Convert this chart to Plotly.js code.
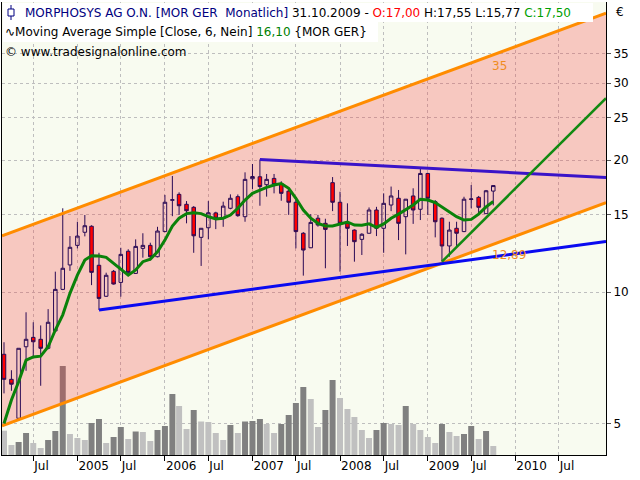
<!DOCTYPE html>
<html><head><meta charset="utf-8">
<script src="https://cdn.plot.ly/plotly-3.0.1.min.js"></script>
<style>html,body{margin:0;padding:0;background:#fff}</style>
</head><body><div id="chart" style="width:640px;height:480px"></div>
<script>
// ---- data ----
const months = ['2004-03-01','2004-04-01','2004-05-01','2004-06-01','2004-07-01','2004-08-01','2004-09-01','2004-10-01','2004-11-01','2004-12-01',
'2005-01-01','2005-02-01','2005-03-01','2005-04-01','2005-05-01','2005-06-01','2005-07-01','2005-08-01','2005-09-01','2005-10-01','2005-11-01','2005-12-01',
'2006-01-01','2006-02-01','2006-03-01','2006-04-01','2006-05-01','2006-06-01','2006-07-01','2006-08-01','2006-09-01','2006-10-01','2006-11-01','2006-12-01',
'2007-01-01','2007-02-01','2007-03-01','2007-04-01','2007-05-01','2007-06-01','2007-07-01','2007-08-01','2007-09-01','2007-10-01','2007-11-01','2007-12-01',
'2008-01-01','2008-02-01','2008-03-01','2008-04-01','2008-05-01','2008-06-01','2008-07-01','2008-08-01','2008-09-01','2008-10-01','2008-11-01','2008-12-01',
'2009-01-01','2009-02-01','2009-03-01','2009-04-01','2009-05-01','2009-06-01','2009-07-01','2009-08-01','2009-09-01','2009-10-01'];
const openP  = [7.21,6.32,5.15,7.50,7.88,7.80,7.44,8.15,10.14,11.53, 12.78,13.69,14.13,11.51,9.78,11.15,10.52,12.39,11.03,12.58,12.78,12.04,
 13.74,16.20,16.71,15.86,15.61,13.33,14.02,15.16,14.74,15.53,16.51,14.86, 18.14,18.33,17.58,18.17,17.69,17.00,16.03,13.62,12.62,14.74,14.35,17.77,
 16.03,14.35,13.85,13.19,13.62,15.39,13.98,15.80,16.37,14.86,16.57,15.45, 18.65,16.08,14.74,12.74,13.98,13.74,16.27,16.45,15.10,17.00];
const highP  = [7.68,6.63,7.44,8.99,8.53,8.39,9.14,11.13,15.53,13.42, 14.47,14.99,14.20,12.29,11.07,11.23,12.62,12.52,13.19,13.62,12.96,14.09,
 16.66,18.40,16.89,16.13,15.71,14.00,16.13,15.25,16.08,16.71,16.70,18.76, 19.60,20.07,18.60,18.60,17.90,17.20,16.22,13.70,15.06,15.00,14.70,18.30,
 16.94,15.94,13.90,13.62,15.60,15.65,16.80,17.41,17.10,16.30,17.25,19.10, 18.70,16.22,14.80,14.47,14.47,16.50,17.55,16.57,17.10,17.55];
const lowP   = [5.87,5.95,5.10,6.61,7.11,6.11,7.40,8.10,10.10,11.18, 12.58,13.40,10.37,9.10,9.75,10.40,9.76,10.88,11.00,11.98,11.80,12.00,
 13.70,14.90,15.00,14.35,12.29,11.47,13.19,13.92,14.09,15.45,14.85,14.47, 17.19,15.74,16.51,16.80,16.16,15.00,12.58,10.90,12.60,14.10,11.33,15.30,
 11.13,12.74,11.73,12.15,13.60,13.42,12.29,15.30,13.14,12.19,14.31,14.60, 15.00,13.33,11.73,12.04,12.69,13.70,15.53,15.10,15.10,15.77];
const closeP = [6.32,6.16,7.44,7.80,7.70,7.44,8.53,10.14,11.33,12.65, 13.42,14.17,11.09,9.67,10.92,10.43,12.19,11.09,12.71,12.78,12.04,13.78,
 16.03,16.24,15.74,15.33,13.44,13.98,15.17,14.74,15.71,16.37,14.94,18.08, 18.35,17.41,18.08,17.60,16.80,16.03,13.74,12.47,14.42,14.22,13.90,16.03,
 14.35,13.98,13.03,13.55,15.39,13.98,15.94,16.57,14.35,16.29,15.39,18.65, 16.37,14.47,12.74,13.85,13.62,16.29,16.31,15.61,17.03,17.50];
const ma6 = [5.01,5.67,6.24,6.99,7.11,7.14,7.50,8.19,8.87,9.93, 10.93,11.83,12.10,12.08,12.00,11.63,11.33,10.93,11.23,11.73,11.88,12.36,
 13.14,14.15,14.74,15.10,15.17,15.10,14.86,14.68,14.74,14.99,15.53,16.22, 16.80,17.10,17.34,17.55,17.69,17.25,16.37,15.39,14.74,14.35,14.15,14.15,
 14.31,14.45,14.22,14.20,14.31,14.05,14.31,14.74,15.06,15.45,15.80,16.29, 16.22,16.00,15.61,15.25,14.86,14.60,14.65,15.06,15.65,16.10];
const volume = [243,100,130,220,120,70,150,240,890,210, 170,150,320,360,120,180,280,160,235,230,140,250,
 290,610,490,260,450,335,330,220,150,300,220,335, 340,360,310,220,310,400,520,680,560,280,450,750,
 570,460,380,250,170,250,320,310,300,490,310,250, 180,120,310,230,190,210,290,160,240,90];
const maLabel = '16,10';
const xTickVals = ['2004-07-01','2005-01-01','2005-07-01','2006-01-01','2006-07-01','2007-01-01','2007-07-01','2008-01-01','2008-07-01','2009-01-01','2009-07-01','2010-01-01','2010-07-01'];
const xTickText = ['Jul','2005','Jul','2006','Jul','2007','Jul','2008','Jul','2009','Jul','2010','Jul'];
const yTickVals = [5,10,15,20,25,30,35];
const xRange = ['2004-02-21 16:00','2011-01-14'];
const yRange = [4.246, 45.93];
const channelX = ['2004-02-21 16:00','2011-01-14'];
const channelUpper = [13.44, 43.3];
const channelLower = [4.95, 16.0];
const supportX = ['2005-04-01','2011-01-14'];
const supportY = [9.10, 13.04];
const resistX = ['2007-02-01','2011-01-14'];
const resistY = [20.07, 18.25];
const trendX = ['2009-03-01','2011-01-14'];
const trendY = [11.73, 27.7];
const channelUpperLabel = '35';
const channelLowerLabel = '12,89';
const channelUpperAtLast = 34.8;
const channelLowerAtLast = 12.89;

// ---- helpers ----
const fmt = v => v.toFixed(2).replace('.', ',');
const n = closeP.length;
const volColors = volume.map((v, i) => (i > 0 && v > volume[i-1]) ? '#808080' : '#C0C0C0');
// plot area in pixels: x 2..606, y 2..455
const PX = p => (p - 2) / 604;
const PY = p => (455 - p) / 453;
const FONT = 'DejaVu Sans';

const traces = [
  { type: 'bar', x: months, y: volume, xaxis: 'x', yaxis: 'y',
    marker: { color: volColors, line: { width: 0 } }, width: 25 * 86400000, hoverinfo: 'skip' },
  { type: 'scatter', mode: 'lines', x: channelX, y: channelLower, xaxis: 'x', yaxis: 'y2',
    line: { width: 0 }, hoverinfo: 'skip' },
  { type: 'scatter', mode: 'lines', x: channelX, y: channelUpper, xaxis: 'x', yaxis: 'y2',
    line: { width: 0 }, fill: 'tonexty', fillcolor: 'rgba(244,53,54,0.26)', hoverinfo: 'skip' },
  { type: 'candlestick', x: months, open: openP, high: highP, low: lowP, close: closeP,
    xaxis: 'x', yaxis: 'y3', whiskerwidth: 0,
    increasing: { line: { color: '#2A0A55', width: 1 }, fillcolor: 'rgba(0,0,0,0)' },
    decreasing: { line: { color: '#2A0A55', width: 1 }, fillcolor: '#FF0000' },
    hoverinfo: 'skip' },
  { type: 'scatter', mode: 'lines', x: channelX, y: channelUpper, xaxis: 'x', yaxis: 'y3',
    line: { color: '#FF8C00', width: 3 }, hoverinfo: 'skip' },
  { type: 'scatter', mode: 'lines', x: channelX, y: channelLower, xaxis: 'x', yaxis: 'y3',
    line: { color: '#FF8C00', width: 3 }, hoverinfo: 'skip' },
  { type: 'scatter', mode: 'lines', x: supportX, y: supportY, xaxis: 'x', yaxis: 'y3',
    line: { color: '#0A0AF0', width: 3 }, hoverinfo: 'skip' },
  { type: 'scatter', mode: 'lines', x: resistX, y: resistY, xaxis: 'x', yaxis: 'y3',
    line: { color: '#3A14C8', width: 3 }, hoverinfo: 'skip' },
  { type: 'scatter', mode: 'lines', x: trendX, y: trendY, xaxis: 'x', yaxis: 'y3',
    line: { color: '#128A12', width: 2.5 }, hoverinfo: 'skip' },
  { type: 'scatter', mode: 'lines', x: months, y: ma6, xaxis: 'x', yaxis: 'y3',
    line: { color: '#0A820A', width: 3 }, hoverinfo: 'skip' }
];

const logR = [Math.log10(yRange[0]), Math.log10(yRange[1])];
const layout = {
  width: 640, height: 480,
  margin: { l: 2, r: 34, t: 2, b: 25, pad: 0 },
  paper_bgcolor: '#FFFFFF', plot_bgcolor: '#F8FBF0',
  showlegend: false, boxgap: 0.25,
  font: { family: FONT, size: 12, color: '#000' },
  xaxis: { type: 'date', range: xRange, rangeslider: { visible: false },
    tickmode: 'array', tickvals: xTickVals, ticktext: xTickText,
    ticks: 'outside', ticklen: 5, tickcolor: '#000', tickwidth: 1,
    ticklabelposition: 'outside right',
    tickfont: { family: FONT, size: 12, color: '#000' },
    showgrid: true, gridcolor: '#BEBEBE', griddash: 'dot', gridwidth: 1,
    showline: true, linecolor: '#000', linewidth: 1, zeroline: false, fixedrange: true },
  yaxis: { range: [0, 4530], visible: false, fixedrange: true },
  yaxis2: { type: 'log', range: logR, overlaying: 'y', visible: false, fixedrange: true },
  yaxis3: { type: 'log', range: logR, overlaying: 'y', side: 'right', anchor: 'x',
    tickmode: 'array', tickvals: yTickVals, ticktext: yTickVals.map(String),
    ticks: 'outside', ticklen: 4, tickcolor: '#555', tickwidth: 1,
    tickfont: { family: FONT, size: 12, color: '#000' },
    showgrid: true, gridcolor: '#BEBEBE', griddash: 'dot', gridwidth: 1,
    showline: true, mirror: true, linecolor: '#000', linewidth: 1, zeroline: false, fixedrange: true },
  shapes: [
    { type: 'rect', xref: 'paper', yref: 'paper', x0: PX(3), x1: PX(593), y0: PY(22), y1: PY(3),
      fillcolor: '#FFFFFF', line: { width: 0 }, layer: 'above' },
    { type: 'rect', xref: 'paper', yref: 'paper', x0: PX(3), x1: PX(378), y0: PY(42), y1: PY(22),
      fillcolor: '#FFFFFF', line: { width: 0 }, layer: 'above' },
    { type: 'line', xref: 'paper', yref: 'paper', x0: PX(11), x1: PX(11), y0: PY(20), y1: PY(5),
      line: { color: '#000080', width: 1 }, layer: 'above' },
    { type: 'rect', xref: 'paper', yref: 'paper', x0: PX(8), x1: PX(14), y0: PY(16), y1: PY(9),
      fillcolor: '#FFFFFF', line: { color: '#000080', width: 1 }, layer: 'above' }
  ],
  annotations: [
    { xref: 'paper', yref: 'paper', x: PX(23), y: PY(12.5), xanchor: 'left', yanchor: 'middle', showarrow: false,
      font: { family: FONT, size: 12, color: '#000' },
      text: '<span style="color:#000080">MORPHOSYS AG O.N. [MOR GER\u00a0 Monatlich]</span> 31.10.2009 - ' +
            '<span style="color:#FF0000">O:' + fmt(openP[n-1]) + '</span> H:' + fmt(highP[n-1]) + ' L:' + fmt(lowP[n-1]) +
            ' <span style="color:#00A000">C:' + fmt(closeP[n-1]) + '</span>' },
    { xref: 'paper', yref: 'paper', x: PX(3), y: PY(32), xanchor: 'left', yanchor: 'middle', showarrow: false,
      font: { family: FONT, size: 12, color: '#000' },
      text: '\u223FMoving Average Simple [Close, 6, Nein] <span style="color:#008000">' + maLabel + '</span> {MOR GER}' },
    { xref: 'paper', yref: 'paper', x: PX(3), y: PY(51.5), xanchor: 'left', yanchor: 'middle', showarrow: false,
      font: { family: FONT, size: 12, color: '#000' }, text: '\u00A9 www.tradesignalonline.com' },
    { xref: 'paper', yref: 'paper', x: PX(614), y: PY(12), xanchor: 'left', yanchor: 'middle', showarrow: false,
      font: { family: FONT, size: 12, color: '#000' }, text: '\u20AC' },
    { xref: 'x', yref: 'y3', x: months[n-1], y: Math.log10(channelUpperAtLast), xanchor: 'left', yanchor: 'top',
      yshift: -2, xshift: -3, showarrow: false, font: { family: FONT, size: 12, color: '#F08C1E' }, text: channelUpperLabel },
    { xref: 'x', yref: 'y3', x: months[n-1], y: Math.log10(channelLowerAtLast), xanchor: 'left', yanchor: 'top',
      yshift: -2, xshift: -3, showarrow: false, font: { family: FONT, size: 12, color: '#F08C1E' }, text: channelLowerLabel }
  ]
};

Plotly.newPlot('chart', traces, layout, { staticPlot: true, displayModeBar: false });
</script>
</body></html>
